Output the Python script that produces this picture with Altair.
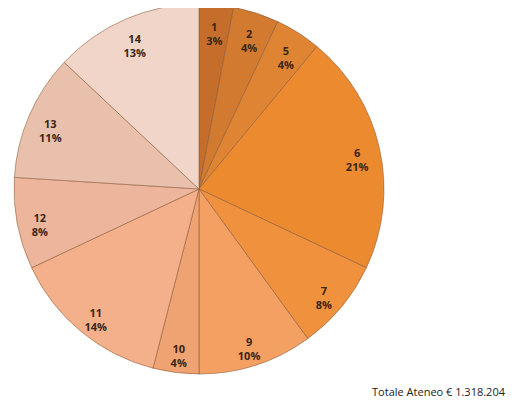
import altair as alt
import pandas as pd

categories = ["1", "2", "5", "6", "7", "9", "10", "11", "12", "13", "14"]
percents = [3, 4, 4, 21, 8, 10, 4, 14, 8, 11, 13]
colors = ["#C56E2C", "#D27A30", "#DE8432", "#EC8A30", "#F0913E", "#F3A062",
          "#EFA272", "#F3B08A", "#EDB69C", "#E8C0AC", "#F1D5C8"]
total_label = "Totale Ateneo € 1.318.204"

df = pd.DataFrame({
    "cat": categories,
    "pct": percents,
    "ord": list(range(len(categories))),
})
df["label"] = df["cat"] + "\n" + df["pct"].astype(str) + "%"

cx, cy, r = 191, 181, 185

base = alt.Chart(df).encode(
    theta=alt.Theta("pct:Q", stack=True),
    order=alt.Order("ord:Q"),
    x=alt.value(cx),
    y=alt.value(cy),
)

arcs = base.mark_arc(radius=r, stroke="#8a5a3a", strokeWidth=0.8, strokeOpacity=0.7).encode(
    color=alt.Color("cat:N", scale=alt.Scale(domain=categories, range=colors), legend=None),
)

labels = base.mark_text(radius=162, lineBreak="\n", fontWeight="bold", fontSize=11,
                        font="Open Sans", color="#3a2616", lineHeight=14).encode(
    text="label:N"
)

total = alt.Chart(pd.DataFrame({"t": [total_label]})).mark_text(
    align="right", baseline="middle", fontSize=11, font="Open Sans", color="#222222"
).encode(text="t:N", x=alt.value(497), y=alt.value(385))

chart = (arcs + labels + total).properties(
    width=501, height=393, padding=0,
    autosize=alt.AutoSizeParams(type="none"),
).configure_view(stroke=None)

chart.save("out.html", embed_options={"renderer": "svg", "actions": False})
